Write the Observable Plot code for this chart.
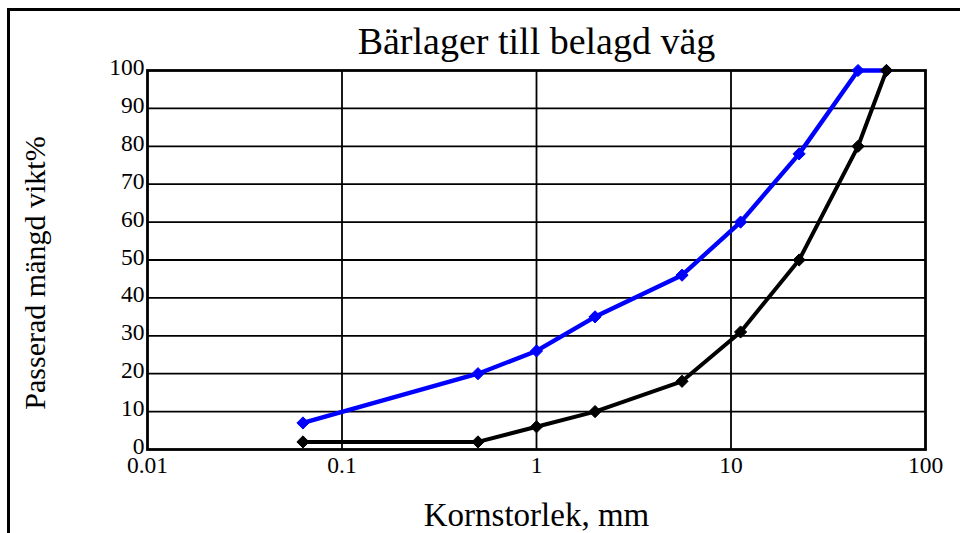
<!DOCTYPE html>
<html>
<head>
<meta charset="utf-8">
<script src="https://cdn.jsdelivr.net/npm/d3@7"></script>
<script src="https://cdn.jsdelivr.net/npm/@observablehq/plot@0.6"></script>
<style>
  body { margin: 0; background: #fff; }
  #wrap { position: relative; width: 960px; height: 533px; overflow: hidden; }
  #box { position: absolute; left: 7px; top: 8px; width: 970px; height: 540px;
         border-left: 3px solid #000; border-top: 3px solid #000; pointer-events: none; }
  svg { display: block; }
</style>
</head>
<body>
<div id="wrap"><div id="box"></div></div>
<script>
const sizes = [0.063, 0.5, 1, 2, 5.6, 11.2, 22.4, 45, 63];
const blueValues = [7, 20, 26, 35, 46, 60, 78, 100, 100];
const blackValues = [2, 2, 6, 10, 18, 31, 50, 80, 100];
const xTicks = [0.01, 0.1, 1, 10, 100];
const xTickLabels = ["0.01", "0.1", "1", "10", "100"];
const yTicks = [0, 10, 20, 30, 40, 50, 60, 70, 80, 90, 100];
const title = "Bärlager till belagd väg";
const xLabel = "Kornstorlek, mm";
const yLabel = "Passerad mängd vikt%";

const blue = sizes.map((s, i) => ({ size: s, value: blueValues[i] }));
const black = sizes.map((s, i) => ({ size: s, value: blackValues[i] }));
const xTickData = xTicks.map((t, i) => ({ t, label: xTickLabels[i] }));

const serif = "'Liberation Serif', 'Times New Roman', serif";

const chart = Plot.plot({
  width: 960,
  height: 533,
  marginLeft: 147,
  marginRight: 35,
  marginTop: 70,
  marginBottom: 84,
  style: { fontFamily: serif, fontSize: "22px", color: "#000", background: "transparent", overflow: "visible" },
  x: { type: "log", domain: [0.01, 100], axis: null },
  y: { domain: [0, 100], axis: null },
  marks: [
    Plot.ruleX(xTicks.slice(1, -1), { stroke: "#000", strokeWidth: 1.8 }),
    Plot.ruleY(yTicks.slice(1, -1), { stroke: "#000", strokeWidth: 1.8 }),
    Plot.frame({ stroke: "#000", strokeWidth: 2.8 }),
    Plot.text(xTickData, { x: "t", text: "label", frameAnchor: "bottom", lineAnchor: "top", dy: 7, fontSize: 23.5, fill: "#000" }),
    Plot.text(yTicks, { y: d => d, text: d => String(d), frameAnchor: "left", textAnchor: "end", lineAnchor: "middle", dx: -3, dy: -3, fontSize: 23.5, fill: "#000" }),
    Plot.line(blue, { x: "size", y: "value", stroke: "#0000ff", strokeWidth: 4.4 }),
    Plot.dot(blue, { x: "size", y: "value", symbol: "diamond2", r: 5.5, fill: "#0000ff", stroke: "#0000ff", strokeWidth: 1 }),
    Plot.line(black, { x: "size", y: "value", stroke: "#000", strokeWidth: 4 }),
    Plot.dot(black, { x: "size", y: "value", symbol: "diamond2", r: 5.5, fill: "#000", stroke: "#000", strokeWidth: 1 }),
    Plot.text([title], { frameAnchor: "top", lineAnchor: "middle", dy: -29, fontSize: 38, fill: "#000" }),
    Plot.text([xLabel], { frameAnchor: "bottom", lineAnchor: "middle", dy: 66, fontSize: 33, fill: "#000" }),
    Plot.text([yLabel], { frameAnchor: "left", textAnchor: "middle", lineAnchor: "middle", dx: -112, dy: 13, rotate: -90, fontSize: 30, fill: "#000" })
  ]
});
document.getElementById("wrap").prepend(chart);
</script>
</body>
</html>
